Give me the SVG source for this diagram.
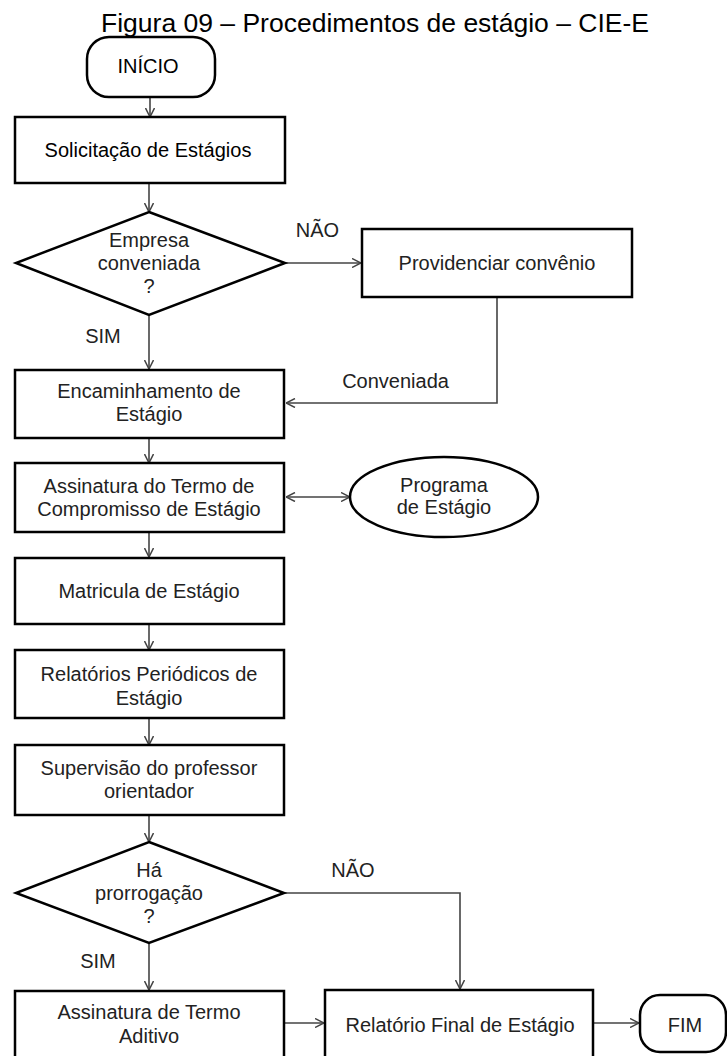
<svg xmlns="http://www.w3.org/2000/svg" width="727" height="1056" viewBox="0 0 727 1056">
  <style>
    .box { fill: #ffffff; stroke: #000000; stroke-width: 2.5; }
    .term { fill: #ffffff; stroke: #000000; stroke-width: 2.5; }
    .lbl { font-family: "Liberation Sans", Arial, sans-serif; font-size: 20px; fill: #222222; text-anchor: middle; }
    .dark { fill: #000000; }
    .edge { fill: none; stroke: #444444; stroke-width: 1.6; }
    .title { font-family: "Liberation Sans", Arial, sans-serif; font-size: 26.5px; fill: #000000; text-anchor: middle; }
  </style>
  <defs>
    <marker id="vhead" viewBox="0 0 10 10" refX="9.5" refY="5" markerWidth="10" markerHeight="10" markerUnits="userSpaceOnUse" orient="auto-start-reverse">
      <path d="M0.5,0.5 L9.5,5 L0.5,9.5" fill="none" stroke="#444444" stroke-width="1.5"/>
    </marker>
  </defs>
  <rect x="0" y="0" width="727" height="1056" fill="#ffffff"/>

  <text class="title" x="375" y="31.5">Figura 09 – Procedimentos de estágio – CIE-E</text>

  <!-- connectors -->
  <g id="connectors">
    <path class="edge" d="M150,97 V117" marker-end="url(#vhead)"/>
    <path class="edge" d="M149,183 V212" marker-end="url(#vhead)"/>
    <path class="edge" d="M285,263 H361" marker-end="url(#vhead)"/>
    <path class="edge" d="M149,315 V369" marker-end="url(#vhead)"/>
    <path class="edge" d="M497,297 V403 H286" marker-end="url(#vhead)" stroke="#333333" stroke-width="2"/>
    <path class="edge" d="M149,438 V463" marker-end="url(#vhead)"/>
    <path class="edge" d="M286,497 H350" marker-start="url(#vhead)" marker-end="url(#vhead)"/>
    <path class="edge" d="M149,532 V557" marker-end="url(#vhead)"/>
    <path class="edge" d="M149,624 V650" marker-end="url(#vhead)"/>
    <path class="edge" d="M149,718 V745" marker-end="url(#vhead)"/>
    <path class="edge" d="M149,815 V842" marker-end="url(#vhead)"/>
    <path class="edge" d="M284,893 H460 V989" marker-end="url(#vhead)"/>
    <path class="edge" d="M149,943 V990" marker-end="url(#vhead)"/>
    <path class="edge" d="M285,1023 H324" marker-end="url(#vhead)"/>
    <path class="edge" d="M594,1023 H639" marker-end="url(#vhead)"/>
    <text class="lbl" x="317.5" y="237">NÃO</text>
    <text class="lbl" x="103" y="343">SIM</text>
    <text class="lbl" x="395.5" y="388">Conveniada</text>
    <text class="lbl" x="353" y="877">NÃO</text>
    <text class="lbl" x="98" y="968">SIM</text>
  </g>

  <g id="inicio">
    <rect class="term" x="87" y="37" width="128" height="60" rx="22" ry="22"/>
    <text class="lbl dark" x="148" y="73">INÍCIO</text>
  </g>

  <g id="solicitacao">
    <rect class="box" x="15" y="117" width="270" height="66"/>
    <text class="lbl dark" x="148" y="157">Solicitação de Estágios</text>
  </g>

  <g id="empresa-conveniada">
    <polygon class="box" points="149,212 285,263 149,315 16,263"/>
    <text class="lbl" x="149" y="247">Empresa</text>
    <text class="lbl" x="149" y="270">conveniada</text>
    <text class="lbl" x="149" y="293">?</text>
  </g>

  <g id="providenciar-convenio">
    <rect class="box" x="362" y="229" width="270" height="68"/>
    <text class="lbl" x="497" y="270">Providenciar convênio</text>
  </g>

  <g id="encaminhamento">
    <rect class="box" x="15" y="370" width="269" height="68"/>
    <text class="lbl" x="149" y="398">Encaminhamento de</text>
    <text class="lbl" x="149" y="421">Estágio</text>
  </g>

  <g id="termo-compromisso">
    <rect class="box" x="15" y="463" width="269" height="69"/>
    <text class="lbl" x="149" y="493">Assinatura do Termo de</text>
    <text class="lbl" x="149" y="516">Compromisso de Estágio</text>
  </g>

  <g id="programa-estagio">
    <ellipse class="box" cx="444" cy="497" rx="94" ry="40"/>
    <text class="lbl" x="444" y="492">Programa</text>
    <text class="lbl" x="444" y="514">de Estágio</text>
  </g>

  <g id="matricula">
    <rect class="box" x="15" y="558" width="269" height="66"/>
    <text class="lbl" x="149" y="598">Matricula de Estágio</text>
  </g>

  <g id="relatorios-periodicos">
    <rect class="box" x="15" y="650" width="269" height="68"/>
    <text class="lbl" x="149" y="681">Relatórios Periódicos de</text>
    <text class="lbl" x="149" y="705">Estágio</text>
  </g>

  <g id="supervisao">
    <rect class="box" x="15" y="745" width="269" height="70"/>
    <text class="lbl" x="149" y="775">Supervisão do professor</text>
    <text class="lbl" x="149" y="798">orientador</text>
  </g>

  <g id="prorrogacao">
    <polygon class="box" points="149,842 284,893 149,943 16,893"/>
    <text class="lbl" x="149" y="877">Há</text>
    <text class="lbl" x="149" y="900">prorrogação</text>
    <text class="lbl" x="149" y="923">?</text>
  </g>

  <g id="termo-aditivo">
    <rect class="box" x="15" y="991" width="269" height="80"/>
    <text class="lbl" x="149" y="1019">Assinatura de Termo</text>
    <text class="lbl" x="149" y="1043">Aditivo</text>
  </g>

  <g id="relatorio-final">
    <rect class="box" x="325" y="990" width="268" height="80"/>
    <text class="lbl" x="460" y="1032">Relatório Final de Estágio</text>
  </g>

  <g id="fim">
    <rect class="term" x="640" y="995" width="86" height="57" rx="20" ry="20"/>
    <text class="lbl" x="685" y="1032">FIM</text>
  </g>
</svg>
